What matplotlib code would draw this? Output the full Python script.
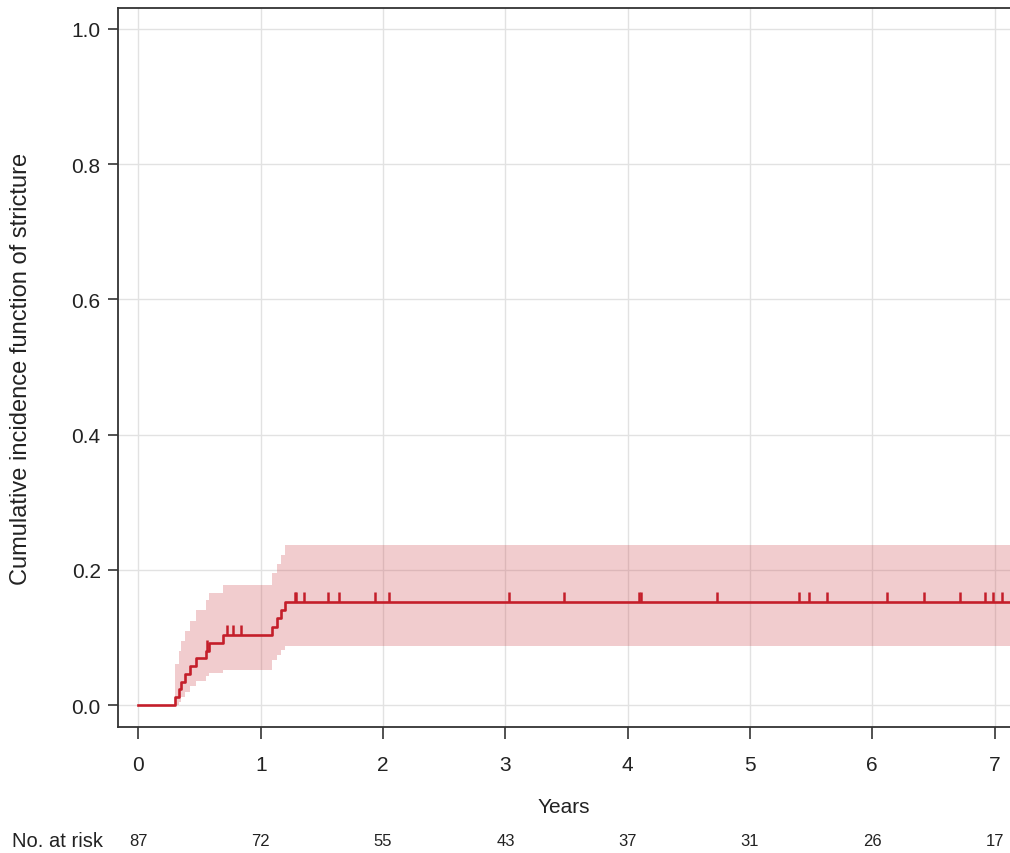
import numpy as np
import matplotlib
matplotlib.use("Agg")
import matplotlib.pyplot as plt

plt.rcParams['font.family'] = ['Liberation Sans', 'DejaVu Sans']

# event times (years) and cumulative incidence after each event
event_times = [0.30, 0.33, 0.35, 0.38, 0.42, 0.47, 0.55, 0.58, 0.69,
               1.09, 1.13, 1.165, 1.20]
cif = [0.0115, 0.023, 0.0345, 0.046, 0.0575, 0.069, 0.0805, 0.092, 0.1036,
       0.1159, 0.1282, 0.1405, 0.1528]
ci_upper = [0.060, 0.080, 0.095, 0.110, 0.125, 0.140, 0.155, 0.165, 0.178,
            0.196, 0.209, 0.222, 0.2367]
ci_lower = [0.000, 0.004, 0.012, 0.020, 0.028, 0.036, 0.043, 0.048, 0.052,
            0.066, 0.074, 0.081, 0.087]

# censored observations
censor_times = [0.56, 0.72, 0.775, 0.84, 1.28, 1.29, 1.35, 1.55, 1.64, 1.93,
                2.05, 3.03, 3.48, 4.09, 4.11, 4.73, 5.40, 5.485, 5.63, 6.12,
                6.42, 6.72, 6.92, 6.985, 7.06]

risk_years = [0, 1, 2, 3, 4, 5, 6, 7]
n_at_risk = [87, 72, 55, 43, 37, 31, 26, 17]

end_time = 7.2
line_col = '#c41e2a'
band_col = '#d04a4f'

t = np.r_[0, event_times, end_time]
y = np.r_[0, cif, cif[-1]]
lo = np.r_[0, ci_lower, ci_lower[-1]]
hi = np.r_[0, ci_upper, ci_upper[-1]]

fig = plt.figure(figsize=(10.10, 8.54), dpi=100)
ax = fig.add_axes([118 / 1010, 126 / 854, 892 / 1010, 719 / 854])

ax.fill_between(t, lo, hi, step='post', color=band_col, alpha=0.28,
                linewidth=0, zorder=2)
ax.step(t, y, where='post', color=line_col, lw=1.9, zorder=3)

# censor marks sit on the curve
idx = np.searchsorted(t, censor_times, side='right') - 1
cy = y[idx]
ax.vlines(censor_times, cy, cy + 0.015, color=line_col, lw=1.8, zorder=3)

ax.set_xlim(-0.1676, 7.126)
ax.set_ylim(-0.0325, 1.031)
ax.set_xticks(risk_years)
ax.set_yticks(np.arange(0, 1.01, 0.2))
ax.set_yticklabels([f'{v:.1f}' for v in np.arange(0, 1.01, 0.2)])
ax.grid(True, color='#e2e2e2', lw=1.0, zorder=1)
ax.set_axisbelow(True)

for s in ['left', 'top', 'bottom']:
    ax.spines[s].set_color('#333333')
    ax.spines[s].set_linewidth(1.3)
ax.spines['right'].set_visible(False)

ax.tick_params(axis='x', length=8.5, width=1.2, pad=12, labelsize=15,
               color='#333333', labelcolor='#222222')
ax.tick_params(axis='y', length=7.5, width=1.2, pad=5, labelsize=15,
               color='#333333', labelcolor='#222222')

ax.set_ylabel('Cumulative incidence function of stricture', fontsize=17,
              color='#222222', labelpad=28)
fig.text(564 / 1010, 1 - 808 / 854, 'Years', ha='center', va='center',
         fontsize=15, color='#222222')

# number at risk row
row_y = 1 - 842 / 854
fig.text(12 / 1010, row_y, 'No. at risk', ha='left', va='center',
         fontsize=14.5, color='#222222')
for yr, n in zip(risk_years, n_at_risk):
    xf = ax.transData.transform((yr, 0))[0] / fig.bbox.width
    fig.text(xf, row_y, str(n), ha='center', va='center', fontsize=12,
             color='#222222')

fig.savefig('out.png', dpi=100)
